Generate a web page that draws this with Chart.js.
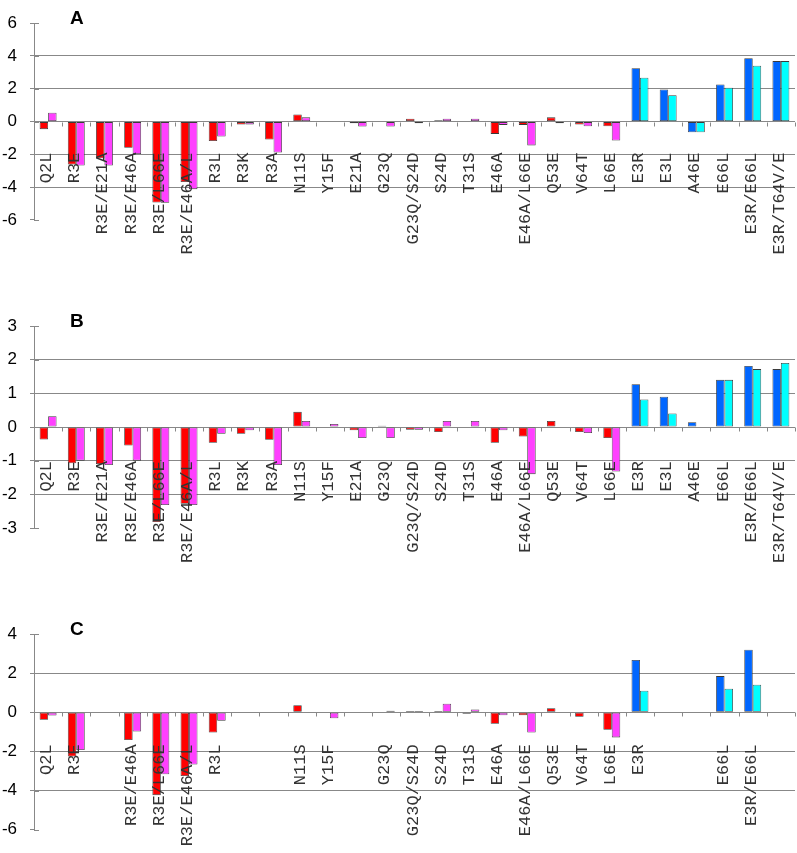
<!DOCTYPE html>
<html><head><meta charset="utf-8">
<script src="https://cdn.jsdelivr.net/npm/chart.js@4.4.0/dist/chart.umd.min.js"></script>
<style>
html,body{margin:0;padding:0;background:#fff;}
#wrap{position:relative;width:797px;height:853px;}
canvas{position:absolute;left:0;top:0;}
</style></head><body>
<div id="wrap">
<canvas id="cA" width="797" height="853"></canvas>
<canvas id="cB" width="797" height="853"></canvas>
<canvas id="cC" width="797" height="853"></canvas>
</div>
<script>
// ---- categories ----
const categoriesAB = ['Q2L','R3E','R3E/E21A','R3E/E46A','R3E/L66E','R3E/E46A/L','R3L','R3K','R3A','N11S','Y15F','E21A','G23Q','G23Q/S24D','S24D','T31S','E46A','E46A/L66E','Q53E','V64T','L66E','E3R','E3L','A46E','E66L','E3R/E66L','E3R/T64V/E'];
const categoriesC  = ['Q2L','R3E','','R3E/E46A','R3E/L66E','R3E/E46A/L','R3L','','','N11S','Y15F','','G23Q','G23Q/S24D','S24D','T31S','E46A','E46A/L66E','Q53E','V64T','L66E','E3R','','','E66L','E3R/E66L',''];
const secondGroupFirst = 'E3R';

// ---- panel A values ----
const panelA_s1 = [-0.46,-2.62,-2.24,-1.6,-4.93,-3.69,-1.19,-0.18,-1.09,0.44,null,-0.1,null,0.18,0.08,null,-0.75,-0.2,0.26,-0.18,-0.28,3.25,1.96,-0.65,2.26,3.87,3.69];
const panelA_s2 = [0.54,-2.68,-2.68,-1.98,-4.95,-4.12,-0.91,-0.17,-1.88,0.26,null,-0.3,-0.3,-0.1,0.18,0.18,-0.2,-1.45,-0.1,-0.28,-1.15,2.68,1.61,-0.65,2.06,3.41,3.69];
// ---- panel B values ----
const panelB_s1 = [-0.37,-1.08,-1.1,-0.55,-2.82,-2.28,-0.47,-0.2,-0.38,0.45,null,-0.1,0.04,-0.08,-0.15,null,-0.47,-0.28,0.18,-0.15,-0.33,1.27,0.9,0.14,1.4,1.81,1.72];
const panelB_s2 = [0.32,-1.0,-1.13,-1.0,-2.32,-2.32,-0.2,-0.1,-1.13,0.18,0.09,-0.33,-0.33,-0.08,0.18,0.18,-0.1,-1.4,null,-0.18,-1.32,0.82,0.4,null,1.4,1.72,1.9];
// ---- panel C values ----
const panelC_s1 = [-0.38,-2.26,null,-1.41,-4.23,-3.25,-1.03,null,null,0.36,null,null,null,0.07,0.07,-0.07,-0.59,-0.15,0.21,-0.23,-0.89,2.67,null,null,1.85,3.2,null];
const panelC_s2 = [-0.16,-1.93,null,-0.98,-3.16,-2.67,-0.43,null,null,null,-0.3,null,0.08,0.07,0.44,0.15,-0.15,-1.03,null,null,-1.28,1.1,null,null,1.2,1.41,null];

// ---- y tick labels ----
const yTicksA = [-6,-4,-2,0,2,4,6];
const yTicksB = [-3,-2,-1,0,1,2,3];
const yTicksC = [-6,-4,-2,0,2,4];

Chart.defaults.font.family = "'Liberation Sans', Arial, sans-serif";

const GRID = '#888888';
const groupStart = categoriesAB.indexOf(secondGroupFirst);

const decoPlugin = {
  id: 'panelDeco',
  afterDatasetsDraw(chart, args, opts) {
    const {ctx, chartArea, scales: {x, y}} = chart;
    const zeroY = y.getPixelForValue(0);
    ctx.save();
    ctx.strokeStyle = GRID; ctx.lineWidth = 1;
    y.ticks.forEach(t => {
      const py = Math.round(y.getPixelForValue(t.value)) + 0.5;
      ctx.beginPath(); ctx.moveTo(chartArea.left, py); ctx.lineTo(chartArea.left + 5, py); ctx.stroke();
    });
    const n = chart.data.labels.length;
    const half = (x.getPixelForValue(1) - x.getPixelForValue(0)) / 2;
    const zy = Math.round(zeroY) + 0.5;
    for (let i = 0; i < n; i++) {
      const bx = Math.round(x.getPixelForValue(i) + half) + 0.5;
      ctx.beginPath(); ctx.moveTo(bx, zy); ctx.lineTo(bx, zy + 4); ctx.stroke();
    }
    // category labels
    ctx.fillStyle = '#333';
    ctx.font = "17px 'Liberation Mono', monospace";
    ctx.textAlign = 'right';
    ctx.textBaseline = 'middle';
    chart.data.labels.forEach((lab, i) => {
      if (!lab) return;
      ctx.save();
      ctx.translate(x.getPixelForValue(i) - 1.5, zeroY + opts.labelOffset);
      ctx.rotate(-Math.PI / 2);
      ctx.fillText(lab, 0, 0);
      ctx.restore();
    });
    // panel letter
    ctx.fillStyle = '#000';
    ctx.font = "bold 19px 'Liberation Sans', Arial, sans-serif";
    ctx.textAlign = 'left';
    ctx.textBaseline = 'alphabetic';
    ctx.fillText(opts.letter, chartArea.left + 36, chartArea.top + 1);
    ctx.restore();
  }
};

function makePanel(id, labels, s1, s2, ticks, padTop, padBottom, letter, labelOffset) {
  const min = Math.min(...ticks), max = Math.max(...ticks);
  const step = ticks[1] - ticks[0];
  new Chart(document.getElementById(id), {
    type: 'bar',
    data: {
      labels: labels,
      datasets: [
        { data: s1,
          backgroundColor: c => c.dataIndex >= groupStart ? '#0066ff' : '#ff0000',
          borderColor: '#3a3a3a', borderWidth: 0.8, borderSkipped: false,
          categoryPercentage: 0.6, barPercentage: 1.0 },
        { data: s2,
          backgroundColor: c => c.dataIndex >= groupStart ? '#00ffff' : '#ff40ff',
          borderColor: '#3a3a3a', borderWidth: 0.8, borderSkipped: false,
          categoryPercentage: 0.6, barPercentage: 1.0 }
      ]
    },
    options: {
      responsive: false,
      animation: false,
      events: [],
      layout: { padding: { top: padTop, bottom: padBottom, left: 0, right: 2 } },
      plugins: {
        legend: { display: false },
        tooltip: { enabled: false },
        panelDeco: { letter: letter, labelOffset: labelOffset }
      },
      scales: {
        x: { display: false, offset: true },
        y: {
          min: min, max: max,
          afterFit: s => { s.width = 34; },
          afterBuildTicks: s => { s.ticks = ticks.map(v => ({ value: v })); },
          ticks: { stepSize: step, padding: 13, color: '#000', font: { size: 17 } },
          grid: {
            color: c => (c.tick && (c.tick.value === min || c.tick.value === max)) ? 'rgba(0,0,0,0)' : GRID,
            tickColor: GRID, tickLength: 4, lineWidth: 1
          },
          border: { display: true, color: GRID, width: 1 }
        }
      }
    },
    plugins: [decoPlugin]
  });
}

makePanel('cA', categoriesAB, panelA_s1, panelA_s2, yTicksA, 18, 853 - 220, 'A', 31);
makePanel('cB', categoriesAB, panelB_s1, panelB_s2, yTicksB, 326, 853 - 528, 'B', 34);
makePanel('cC', categoriesC,  panelC_s1, panelC_s2, yTicksC, 634, 853 - 839, 'C', 32);
</script>
</body></html>
